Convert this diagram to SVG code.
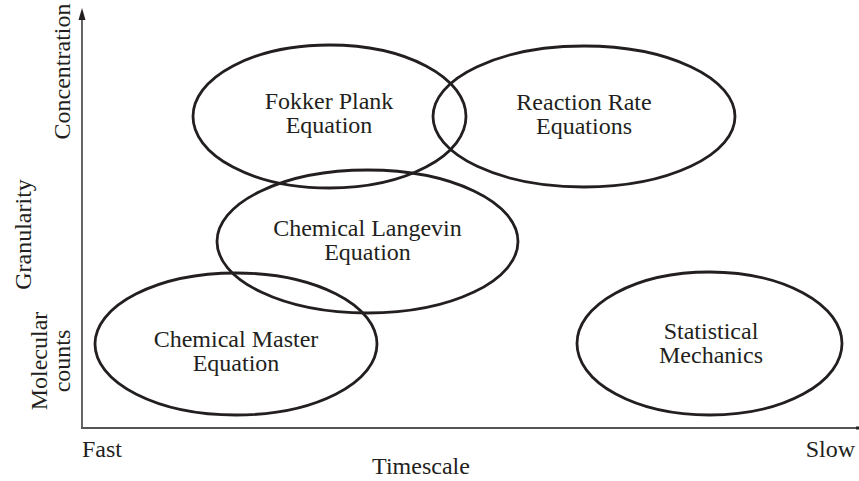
<svg xmlns="http://www.w3.org/2000/svg" width="859" height="481" viewBox="0 0 859 481">
  <defs>
    <style>
      .node ellipse { fill: none; stroke: #231f20; stroke-width: 2.8; }
      .lbl { font-family: "Liberation Serif", "Times New Roman", serif; font-size: 24px; fill: #231f20; text-anchor: middle; }
      .axis { stroke: #555; stroke-width: 1.8; fill: none; }
    </style>
  </defs>
  <rect width="859" height="481" fill="#fff"/>

  <g id="connectors">
    <path class="axis" d="M82,428 L82,16"/>
    <path d="M78.5,20 L82,8 L85.5,20 Z" fill="#231f20"/>
    <path class="axis" d="M81,428 L858,428"/>
    <rect x="856" y="426.5" width="3" height="3" fill="#231f20"/>
  </g>

  <g id="axis-labels">
    <text class="lbl" x="82" y="457" style="text-anchor:start">Fast</text>
    <text class="lbl" x="855" y="457" style="text-anchor:end">Slow</text>
    <text class="lbl" x="421" y="474">Timescale</text>
    <text class="lbl" transform="translate(70,71.5) rotate(-90)">Concentration</text>
    <text class="lbl" transform="translate(31,234.5) rotate(-90)">Granularity</text>
    <text class="lbl" transform="translate(47,361) rotate(-90)">Molecular</text>
    <text class="lbl" transform="translate(70,361) rotate(-90)">counts</text>
  </g>

  <g id="fokker-plank" class="node">
    <ellipse cx="329.5" cy="116.5" rx="136.5" ry="71.5"/>
    <text class="lbl" x="329" y="109">Fokker Plank</text>
    <text class="lbl" x="329" y="133">Equation</text>
  </g>
  <g id="reaction-rate" class="node">
    <ellipse cx="584" cy="116.5" rx="151" ry="70.5"/>
    <text class="lbl" x="584" y="110">Reaction Rate</text>
    <text class="lbl" x="584" y="134">Equations</text>
  </g>
  <g id="chemical-langevin" class="node">
    <ellipse cx="367.5" cy="241.5" rx="150.5" ry="71.5"/>
    <text class="lbl" x="367.5" y="236">Chemical Langevin</text>
    <text class="lbl" x="367.5" y="260">Equation</text>
  </g>
  <g id="chemical-master" class="node">
    <ellipse cx="236" cy="344" rx="141" ry="71"/>
    <text class="lbl" x="236" y="347">Chemical Master</text>
    <text class="lbl" x="236" y="371">Equation</text>
  </g>
  <g id="statistical-mechanics" class="node">
    <ellipse cx="709.5" cy="343.5" rx="132.5" ry="71.5"/>
    <text class="lbl" x="711" y="339">Statistical</text>
    <text class="lbl" x="711" y="363">Mechanics</text>
  </g>
</svg>
